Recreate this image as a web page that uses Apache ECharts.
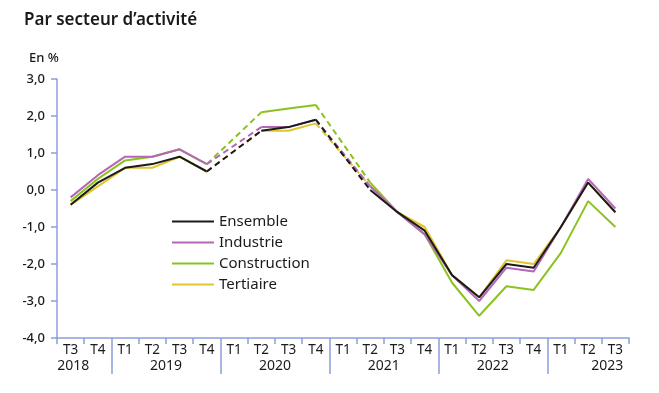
<!DOCTYPE html>
<html>
<head>
<meta charset="utf-8">
<script src="https://cdn.jsdelivr.net/npm/echarts@6/dist/echarts.min.js"></script>
<style>html,body{margin:0;padding:0;background:#fff}#c{width:659px;height:393px}</style>
</head>
<body>
<div id="c"></div>
<script>
const quarters = ['T3','T4','T1','T2','T3','T4','T1','T2','T3','T4','T1','T2','T3','T4','T1','T2','T3','T4','T1','T2','T3'];
const quarterYears = [2018,2018,2019,2019,2019,2019,2020,2020,2020,2020,2021,2021,2021,2021,2022,2022,2022,2022,2023,2023,2023];
const years = ['2018','2019','2020','2021','2022','2023'];
const yearLabelPos = [0.6, 4, 8, 12, 16, 20.2];
const yearBoundaries = [2, 6, 10, 14, 18];
const yTicks = [3, 2, 1, 0, -1, -2, -3, -4];

const ensemble     = [-0.4, 0.2, 0.6, 0.7, 0.9, 0.5, null, 1.6, 1.7, 1.9, null, 0.0, -0.6, -1.1, -2.3, -2.9, -2.0, -2.1, -1.0, 0.2, -0.6];
const industrie    = [-0.2, 0.4, 0.9, 0.9, 1.1, 0.7, null, 1.7, 1.7, 1.9, null, 0.1, -0.6, -1.2, -2.3, -3.0, -2.1, -2.2, -1.0, 0.3, -0.5];
const construction = [-0.3, 0.3, 0.8, 0.9, 1.1, 0.7, null, 2.1, 2.2, 2.3, null, 0.2, -0.6, -1.2, -2.5, -3.4, -2.6, -2.7, -1.7, -0.3, -1.0];
const tertiaire    = [-0.4, 0.1, 0.6, 0.6, 0.9, 0.5, null, 1.6, 1.6, 1.8, null, 0.1, -0.6, -1.0, -2.3, -2.9, -1.9, -2.0, -1.0, 0.2, -0.6];
const gaps = [[5, 7], [9, 11]];

const sectors = [
  {name: 'Construction', data: construction, color: '#8cc21f'},
  {name: 'Tertiaire', data: tertiaire, color: '#e1c52f'},
  {name: 'Industrie', data: industrie, color: '#b566b6'},
  {name: 'Ensemble', data: ensemble, color: '#1a1a1a'}
];

const cats = quarters.map((q, i) => quarterYears[i] + ' ' + q);
const FONT = 'Noto Sans';
const AXIS = '#8c9fdc';

const series = [];
sectors.forEach(s => {
  series.push({
    name: s.name, type: 'line', data: s.data, symbol: 'none', connectNulls: false,
    lineStyle: {color: s.color, width: 2}, itemStyle: {color: s.color}
  });
});
sectors.forEach(s => {
  gaps.forEach(g => {
    const d = s.data.map((v, i) => (i === g[0] || i === g[1]) ? v : null);
    series.push({
      name: s.name + ' (pointillé)', type: 'line', data: d, symbol: 'none', connectNulls: true,
      lineStyle: {color: s.color, width: 2, type: [6, 4]}, itemStyle: {color: s.color}
    });
  });
});

const chart = echarts.init(document.getElementById('c'), null, {renderer: 'canvas'});
chart.setOption({
  animation: false,
  backgroundColor: '#fff',
  textStyle: {fontFamily: FONT},
  title: [
    {text: 'Par secteur d’activité', left: 19, top: 7, textStyle: {fontFamily: FONT, fontSize: 17, fontWeight: 600, color: '#1a1a1a'}},
    {text: 'En %', left: 24, top: 47, textStyle: {fontFamily: FONT, fontSize: 13, fontWeight: 500, color: '#1a1a1a'}}
  ],
  legend: {
    data: ['Ensemble', 'Industrie', 'Construction', 'Tertiaire'],
    orient: 'vertical', left: 167, top: 208, icon: 'rect', itemWidth: 42, itemHeight: 2, itemGap: 4,
    textStyle: {fontFamily: FONT, fontSize: 15, color: '#1a1a1a', lineHeight: 17}
  },
  grid: {left: 57, right: 30, top: 79, bottom: 55, containLabel: false},
  xAxis: [
    {
      type: 'category', data: cats, boundaryGap: true,
      axisLine: {onZero: false, lineStyle: {color: AXIS, width: 1.5}},
      axisTick: {show: true, alignWithLabel: false, length: 6, lineStyle: {color: AXIS, width: 1.5}},
      axisLabel: {interval: 0, margin: 5, fontFamily: FONT, fontSize: 13.5, color: '#1a1a1a', formatter: v => v.split(' ')[1]},
      splitLine: {show: false}
    },
    {
      type: 'value', min: 0, max: 21, position: 'bottom',
      axisLine: {show: false, onZero: false},
      axisTick: {show: true, customValues: yearBoundaries, length: 36, lineStyle: {color: AXIS, width: 1.5}},
      axisLabel: {show: true, customValues: yearLabelPos, margin: 21, fontFamily: FONT, fontSize: 14, color: '#1a1a1a',
        formatter: v => { const k = yearLabelPos.indexOf(v); return k >= 0 ? years[k] : ''; }},
      splitLine: {show: false}
    }
  ],
  yAxis: {
    type: 'value', min: yTicks[yTicks.length - 1], max: yTicks[0], interval: 1,
    axisLine: {show: true, lineStyle: {color: AXIS, width: 1.5}},
    axisTick: {show: true, length: 6, lineStyle: {color: AXIS, width: 1.5}},
    axisLabel: {margin: 12, fontFamily: FONT, fontSize: 13, fontWeight: 500, color: '#1a1a1a', formatter: v => v.toFixed(1).replace('.', ',')},
    splitLine: {show: false}
  },
  series: series
});
</script>
</body>
</html>
